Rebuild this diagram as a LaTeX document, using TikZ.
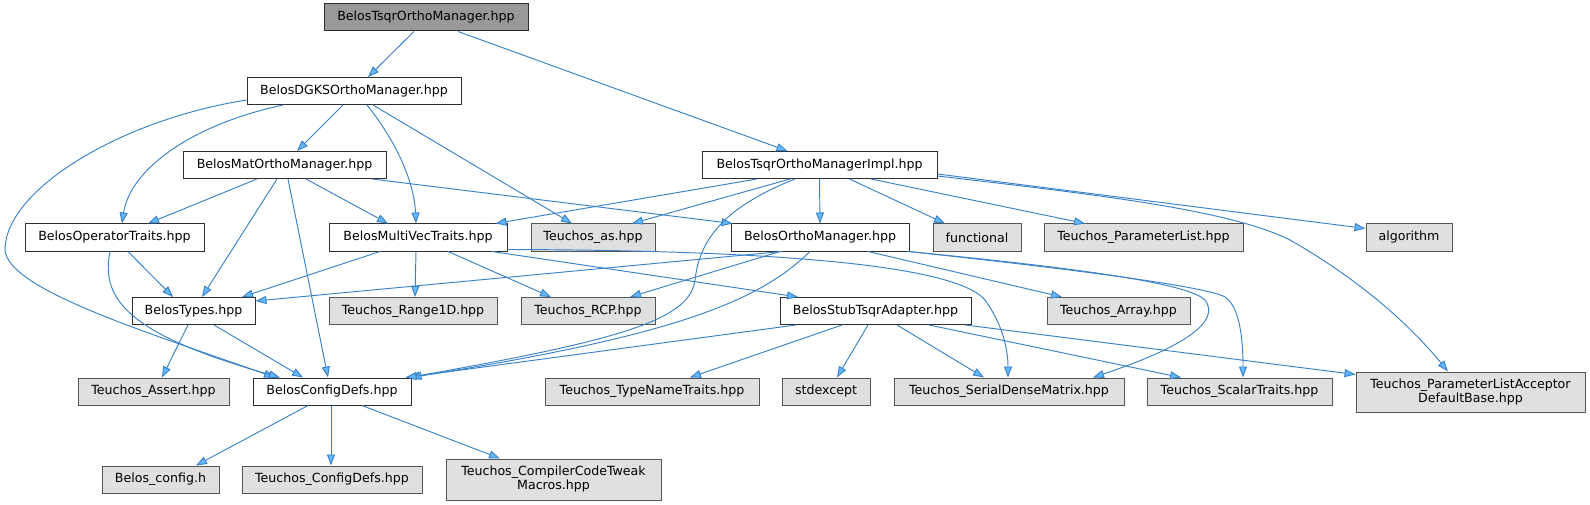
\documentclass[tikz,border=0pt]{standalone}
\usepackage{fontspec}
\setmainfont{DejaVu Sans}
\usetikzlibrary{arrows.meta}
\definecolor{edgec}{HTML}{3A82C8}
\definecolor{headc}{HTML}{63B8FF}
\definecolor{extfill}{HTML}{E0E0E0}
\definecolor{rootfill}{HTML}{999999}
\definecolor{docborder}{HTML}{2E2E2E}
\definecolor{extborder}{HTML}{555555}
\begin{document}
\begin{tikzpicture}[x=1pt,y=-1pt,
  font=\fontsize{12.6}{14}\selectfont,
  bnode/.style={draw=docborder, fill=white, line width=1pt, minimum height=27pt, inner sep=0pt, minimum width=#1},
  tnode/.style={draw=extborder, fill=extfill, line width=1pt, minimum height=27pt, inner sep=0pt, minimum width=#1},
  rnode/.style={draw=docborder, fill=rootfill, line width=1pt, minimum height=27pt, inner sep=0pt, minimum width=#1},
  e/.style={draw=edgec, line width=0.95pt, -{Triangle[length=11pt,width=8pt,fill=headc]}}]
\useasboundingbox (0,0) rectangle (1590,505);
% nodes
\node[rnode=204pt] (root) at (426,17.5) {BelosTsqrOrthoManager.hpp};
\node[bnode=214pt] (dgks) at (354,91) {BelosDGKSOrthoManager.hpp};
\node[bnode=203pt] (mat) at (284.5,165) {BelosMatOrthoManager.hpp};
\node[bnode=235pt] (impl) at (819.5,165) {BelosTsqrOrthoManagerImpl.hpp};
\node[bnode=179pt] (optr) at (114.5,237.5) {BelosOperatorTraits.hpp};
\node[bnode=178pt] (mvt) at (418,237.5) {BelosMultiVecTraits.hpp};
\node[tnode=124pt] (as) at (593,237.5) {Teuchos\_as.hpp};
\node[bnode=178pt] (om) at (820,237.5) {BelosOrthoManager.hpp};
\node[tnode=88pt] (func) at (977,237.5) {functional};
\node[tnode=199pt] (plist) at (1143.5,237.5) {Teuchos\_ParameterList.hpp};
\node[tnode=86pt] (algo) at (1409,237.5) {algorithm};
\node[bnode=123pt] (types) at (193.5,311) {BelosTypes.hpp};
\node[tnode=168pt] (range) at (413,311) {Teuchos\_Range1D.hpp};
\node[tnode=134pt] (rcp) at (588,311) {Teuchos\_RCP.hpp};
\node[bnode=191pt] (stub) at (875.5,311) {BelosStubTsqrAdapter.hpp};
\node[tnode=143pt] (array) at (1118.5,311) {Teuchos\_Array.hpp};
\node[tnode=151pt] (assert) at (153.5,391.5) {Teuchos\_Assert.hpp};
\node[bnode=158pt] (cd) at (332,391.5) {BelosConfigDefs.hpp};
\node[tnode=214pt] (tnt) at (652,391.5) {Teuchos\_TypeNameTraits.hpp};
\node[tnode=88pt] (stdx) at (826,391.5) {stdexcept};
\node[tnode=230pt] (sdm) at (1009,391.5) {Teuchos\_SerialDenseMatrix.hpp};
\node[tnode=185pt] (scal) at (1239.5,391.5) {Teuchos\_ScalarTraits.hpp};
\node[tnode=229pt, minimum height=40pt, align=center] (plad) at (1470.5,392) {Teuchos\_ParameterListAcceptor\\DefaultBase.hpp};
\node[tnode=117pt] (bconf) at (160.5,479.5) {Belos\_config.h};
\node[tnode=180pt] (tconf) at (332,479.5) {Teuchos\_ConfigDefs.hpp};
\node[tnode=215pt, minimum height=41pt, align=center] (cctm) at (553.5,479.5) {Teuchos\_CompilerCodeTweak\\Macros.hpp};
% edges from root
\draw[e] ([xshift=-12pt]root.south) -- ([xshift=14pt]dgks.north);
\draw[e] ([xshift=32pt]root.south) -- ([xshift=-32pt]impl.north);
% DGKS
\draw[e] ([yshift=-9pt]dgks.west) .. controls (120,120) and (5,190) .. (5,250) .. controls (8,290) and (150,333) .. ([xshift=-57pt]cd.north);
\draw[e] ([xshift=-71pt]dgks.south) .. controls (190,125) and (130,170) .. ([xshift=7.5pt]optr.north);
\draw[e] ([xshift=-11pt]dgks.south) -- ([xshift=12.5pt]mat.north);
\draw[e] ([xshift=13pt]dgks.south) .. controls (395,140) and (414,180) .. ([xshift=-2pt]mvt.north);
\draw[e] ([xshift=19pt]dgks.south) -- ([xshift=-21pt]as.north);
% Mat
\draw[e] ([xshift=-27.5pt]mat.south) -- ([xshift=33.5pt]optr.north);
\draw[e] ([xshift=-7.5pt]mat.south) -- ([xshift=8.5pt]types.north);
\draw[e] ([xshift=3.5pt]mat.south) -- ([xshift=-4pt]cd.north);
\draw[e] ([xshift=21.5pt]mat.south) -- ([xshift=-30pt]mvt.north);
\draw[e] ([xshift=87.5pt]mat.south) -- ([xshift=2pt]om.north west);
% OperatorTraits
\draw[e] ([xshift=13.5pt]optr.south) -- ([xshift=-20.5pt]types.north);
\draw[e] ([xshift=-4.5pt]optr.south) .. controls (100,300) and (130,335) .. ([xshift=-52pt]cd.north);
% MultiVecTraits
\draw[e] ([xshift=-38pt]mvt.south) -- ([xshift=48.5pt]types.north);
\draw[e] ([xshift=-2pt]mvt.south) -- ([xshift=2pt]range.north);
\draw[e] ([xshift=30pt]mvt.south) -- ([xshift=-37pt]rcp.north);
\draw[e] ([xshift=74pt]mvt.south) -- ([xshift=-77.5pt]stub.north);
\draw[e] ([yshift=2pt]mvt.south east) .. controls (700,250) and (950,258) .. (985,300) .. controls (1003,325) and (1008,350) .. ([xshift=-1pt]sdm.north);
% TsqrOrthoManagerImpl
\draw[e] ([xshift=-62.5pt]impl.south) -- ([xshift=-12pt]mvt.north east);
\draw[e] ([xshift=-29.5pt]impl.south) -- ([xshift=39pt]as.north);
\draw[e] ([xshift=-24.5pt]impl.south) .. controls (730,205) and (700,235) .. (695,280) .. controls (690,320) and (620,340) .. ([xshift=-3pt]cd.north east);
\draw[e] (impl.south) -- (om.north);
\draw[e] ([xshift=30pt]impl.south) -- ([xshift=-32pt]func.north);
\draw[e] ([xshift=51.5pt]impl.south) -- ([xshift=-58.5pt]plist.north);
\draw[e] ([yshift=-9pt]impl.east) -- ([yshift=9pt]algo.west);
\draw[e] ([yshift=-11pt]impl.east) .. controls (1100,195) and (1230,210) .. (1290,240) .. controls (1360,280) and (1410,325) .. ([xshift=-22.5pt]plad.north);
% OrthoManager
\draw[e] ([xshift=-38pt]om.south) -- ([yshift=10pt]types.east);
\draw[e] ([xshift=-40pt]om.south) -- ([xshift=42pt]rcp.north);
\draw[e] ([xshift=-10pt]om.south) .. controls (760,300) and (680,335) .. ([xshift=-1pt]cd.north east);
\draw[e] ([xshift=48pt]om.south) -- ([xshift=-56.5pt]array.north);
\draw[e] ([xshift=-2pt]om.south east) .. controls (1100,270) and (1190,285) .. (1205,300) .. controls (1220,320) and (1190,345) .. ([xshift=84pt]sdm.north);
\draw[e] ([xshift=-1pt]om.south east) .. controls (1100,272) and (1210,288) .. (1225,297) .. controls (1240,307) and (1243,340) .. ([xshift=3.5pt]scal.north);
% StubTsqrAdapter
\draw[e] ([xshift=-79.5pt]stub.south) -- ([xshift=-6pt]cd.north east);
\draw[e] ([xshift=-33.5pt]stub.south) -- ([xshift=38pt]tnt.north);
\draw[e] ([xshift=-7.5pt]stub.south) -- ([xshift=11pt]stdx.north);
\draw[e] ([xshift=21.5pt]stub.south) -- ([xshift=-25pt]sdm.north);
\draw[e] ([xshift=53.5pt]stub.south) -- ([xshift=-58.5pt]scal.north);
\draw[e] ([xshift=-6pt]stub.south east) -- ([yshift=-3pt]plad.north west);
% Types
\draw[e] ([xshift=-5.5pt]types.south) -- ([xshift=8.5pt]assert.north);
\draw[e] ([xshift=20.5pt]types.south) -- ([xshift=-29pt]cd.north);
% ConfigDefs
\draw[e] ([xshift=-24pt]cd.south) -- ([xshift=35.5pt]bconf.north);
\draw[e] ([xshift=-1pt]cd.south) -- ([xshift=-1pt]tconf.north);
\draw[e] ([xshift=30pt]cd.south) -- ([xshift=-53.5pt]cctm.north);
\end{tikzpicture}
\end{document}
